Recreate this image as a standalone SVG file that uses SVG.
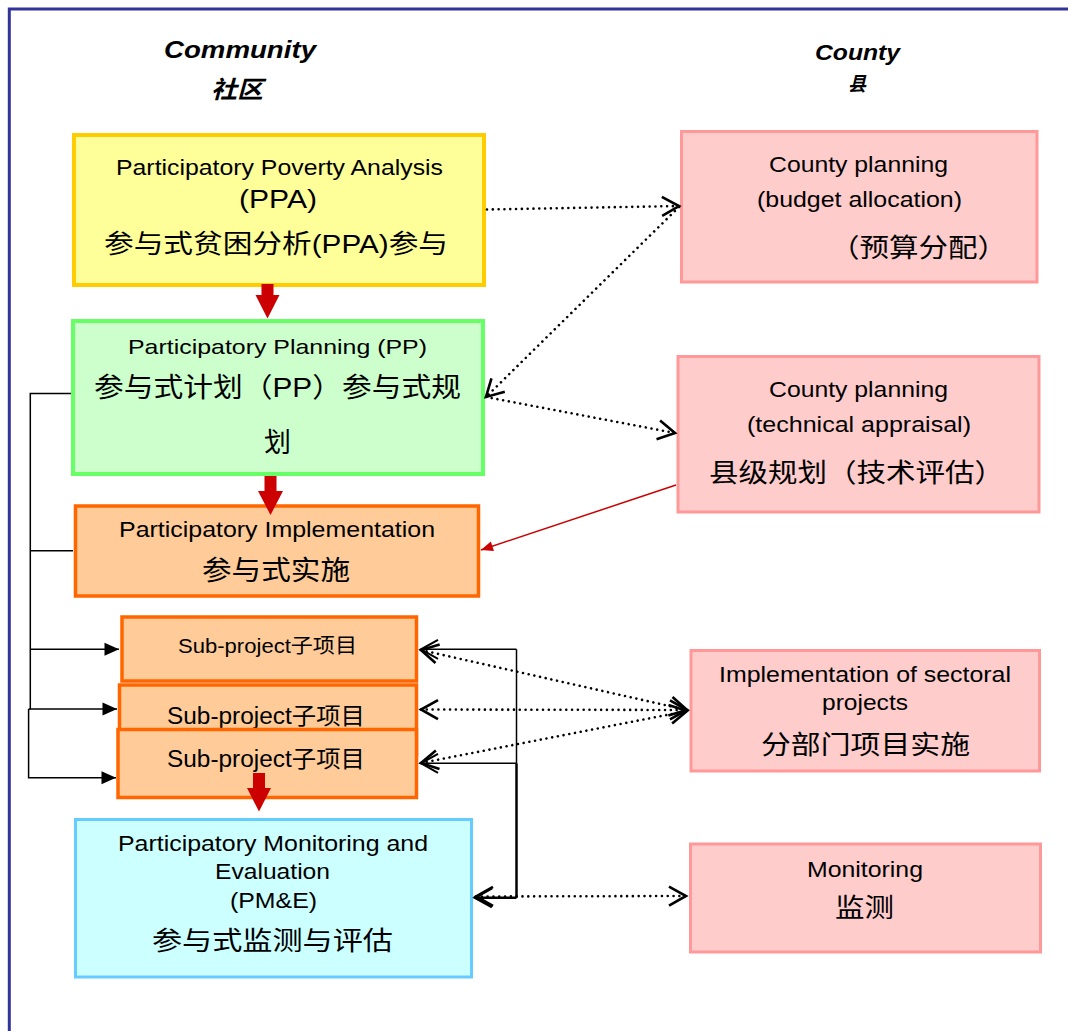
<svg xmlns="http://www.w3.org/2000/svg" width="1068" height="1031" viewBox="0 0 1068 1031">
<style>
text{font-family:"Liberation Sans","Noto Sans CJK SC",sans-serif;fill:#000}
.hd{font-weight:bold;font-style:italic}
.ppa{fill:#FFFF99;stroke:#FFCC00;stroke-width:4}
.pp{fill:#CCFFCC;stroke:#66FF66;stroke-width:4}
.org{fill:#FFCC99;stroke:#FF6600;stroke-width:3.5}
.pme{fill:#CCFFFF;stroke:#66CCFF;stroke-width:3}
.cty{fill:#FFCCCC;stroke:#FF9999;stroke-width:3}
.solid{fill:none;stroke:#000;stroke-width:1.5}
.dot{fill:none;stroke:#000;stroke-width:2.6;stroke-linecap:round;stroke-dasharray:0.01 5.8}
.blk{fill:#CC0000}
</style>
<defs>
<marker id="chev" viewBox="-21 -12 24 24" refX="0" refY="0" markerWidth="24" markerHeight="24" markerUnits="userSpaceOnUse" orient="auto-start-reverse">
<path d="M-17,-9.5 L0,0 L-17,9.5" fill="none" stroke="#000" stroke-width="2.6"/>
</marker>
<marker id="chevt" viewBox="-21 -12 24 24" refX="0" refY="0" markerWidth="24" markerHeight="24" markerUnits="userSpaceOnUse" orient="auto-start-reverse">
<path d="M-17,-9.5 L0,0 L-17,9.5" fill="none" stroke="#000" stroke-width="2"/>
</marker>
<marker id="tri" viewBox="-16 -8 17 16" refX="0" refY="0" markerWidth="17" markerHeight="16" markerUnits="userSpaceOnUse" orient="auto">
<path d="M-14.5,-6.5 L0,0 L-14.5,6.5 Z" fill="#000"/>
</marker>
<marker id="rtri" viewBox="-14 -7 15 14" refX="0" refY="0" markerWidth="15" markerHeight="14" markerUnits="userSpaceOnUse" orient="auto">
<path d="M-12,-5 L0,0 L-12,5 Z" fill="#CC0000"/>
</marker>
</defs>
<rect width="1068" height="1031" fill="#fff"/>
<path d="M9.3,1031 V9 H1068" fill="none" stroke="#333399" stroke-width="3"/>

<g id="headers">
<text class="hd" x="164" y="58" font-size="23" textLength="152" lengthAdjust="spacingAndGlyphs">Community</text>
<text class="hd" x="211" y="98" font-size="24" textLength="52" lengthAdjust="spacingAndGlyphs">社区</text>
<text class="hd" x="815" y="60" font-size="22" textLength="85" lengthAdjust="spacingAndGlyphs">County</text>
<text class="hd" x="848" y="91" font-size="20" textLength="18" lengthAdjust="spacingAndGlyphs">县</text>
</g>

<g id="ppa">
<rect class="ppa" x="74" y="135" width="410" height="150"/>
<text x="116" y="174.5" font-size="22" textLength="327" lengthAdjust="spacingAndGlyphs">Participatory Poverty Analysis</text>
<text x="239" y="208" font-size="26" textLength="78" lengthAdjust="spacingAndGlyphs">(PPA)</text>
<text x="104" y="253" font-size="26" textLength="344" lengthAdjust="spacingAndGlyphs">参与式贫困分析(PPA)参与</text>
</g>

<g id="pp">
<rect class="pp" x="73" y="321" width="410" height="153"/>
<text x="128" y="353.5" font-size="21" textLength="299" lengthAdjust="spacingAndGlyphs">Participatory Planning (PP)</text>
<text x="94" y="397" font-size="27" textLength="367" lengthAdjust="spacingAndGlyphs">参与式计划（PP）参与式规</text>
<text x="277.5" y="452" font-size="27" text-anchor="middle">划</text>
</g>

<g id="impl">
<rect class="org" x="75.5" y="506" width="403" height="90"/>
<text x="119" y="537" font-size="22" textLength="316" lengthAdjust="spacingAndGlyphs">Participatory Implementation</text>
<text x="202" y="580" font-size="27" textLength="148" lengthAdjust="spacingAndGlyphs">参与式实施</text>
</g>

<g id="sub1">
<rect class="org" x="122" y="617" width="294.5" height="64"/>
<text x="178" y="653" font-size="20" textLength="179" lengthAdjust="spacingAndGlyphs">Sub-project子项目</text>
</g>
<g id="sub2">
<rect class="org" x="119.5" y="685" width="297" height="70"/>
<text x="167" y="723.5" font-size="23" textLength="198" lengthAdjust="spacingAndGlyphs">Sub-project子项目</text>
</g>
<g id="sub3">
<rect class="org" x="118" y="729.5" width="298.5" height="68"/>
<text x="167" y="767" font-size="23" textLength="198" lengthAdjust="spacingAndGlyphs">Sub-project子项目</text>
</g>

<g id="pme">
<rect class="pme" x="75.5" y="819.5" width="396" height="157.5"/>
<text x="118" y="851" font-size="22" textLength="310" lengthAdjust="spacingAndGlyphs">Participatory Monitoring and</text>
<text x="215" y="879" font-size="22" textLength="115" lengthAdjust="spacingAndGlyphs">Evaluation</text>
<text x="230" y="908" font-size="22" textLength="87" lengthAdjust="spacingAndGlyphs">(PM&amp;E)</text>
<text x="152" y="950" font-size="26" textLength="241" lengthAdjust="spacingAndGlyphs">参与式监测与评估</text>
</g>

<g id="county-budget">
<rect class="cty" x="681.5" y="131.5" width="355.5" height="150.5"/>
<text x="769" y="171.5" font-size="22" textLength="179" lengthAdjust="spacingAndGlyphs">County planning</text>
<text x="757" y="206.5" font-size="22" textLength="205" lengthAdjust="spacingAndGlyphs">(budget allocation)</text>
<text x="830" y="257" font-size="26" textLength="177" lengthAdjust="spacingAndGlyphs">（预算分配）</text>
</g>

<g id="county-tech">
<rect class="cty" x="678" y="356.5" width="361" height="155.5"/>
<text x="769" y="396.5" font-size="22" textLength="179" lengthAdjust="spacingAndGlyphs">County planning</text>
<text x="747" y="431.5" font-size="22" textLength="224" lengthAdjust="spacingAndGlyphs">(technical appraisal)</text>
<text x="709" y="482" font-size="26" textLength="295" lengthAdjust="spacingAndGlyphs">县级规划（技术评估）</text>
</g>

<g id="sectoral">
<rect class="cty" x="691" y="650.5" width="348.5" height="120.5"/>
<text x="719" y="681.5" font-size="22" textLength="292" lengthAdjust="spacingAndGlyphs">Implementation of sectoral</text>
<text x="822" y="710" font-size="22" textLength="86" lengthAdjust="spacingAndGlyphs">projects</text>
<text x="761" y="754" font-size="26" textLength="209" lengthAdjust="spacingAndGlyphs">分部门项目实施</text>
</g>

<g id="monitoring">
<rect class="cty" x="690.5" y="844" width="350" height="108"/>
<text x="807" y="876.5" font-size="22" textLength="116" lengthAdjust="spacingAndGlyphs">Monitoring</text>
<text x="835" y="917" font-size="26" textLength="59" lengthAdjust="spacingAndGlyphs">监测</text>
</g>

<g id="connectors">
<polygon class="blk" points="261.5,284 273.5,284 273.5,295 279.5,295 267.5,318.5 255.5,295 261.5,295"/>
<polygon class="blk" points="264.5,476 276.5,476 276.5,491 283,491 270.5,515 258,491 264.5,491"/>
<polygon class="blk" points="253,773 265,773 265,788 271,788 259,811.5 247,788 253,788"/>

<path class="solid" d="M71,393.5 H30.3 V709.5"/>
<path class="solid" d="M73,550.7 H30.3"/>
<path class="solid" d="M30.3,649.3 H119" marker-end="url(#tri)"/>
<path class="solid" d="M28.6,709 H117" marker-end="url(#tri)"/>
<path class="solid" d="M28.6,709 V777.7 H116" marker-end="url(#tri)"/>

<path class="solid" d="M516.5,649.3 V763.3"/>
<path d="M516.5,763.3 V897.7" fill="none" stroke="#000" stroke-width="2.5"/>
<path class="solid" d="M516.5,649.3 H421" marker-end="url(#chevt)"/>
<path class="solid" d="M516.5,763.3 H421" marker-end="url(#chevt)"/>
<path d="M516.5,897.7 H475" fill="none" stroke="#000" stroke-width="2.5" marker-end="url(#chev)"/>

<path class="dot" d="M487,209.5 L679,206" marker-end="url(#chev)"/>
<path class="dot" d="M679,207 L486,397" marker-end="url(#chev)"/>
<path class="dot" d="M486,397 L675,433" marker-end="url(#chev)"/>
<path class="dot" d="M421,650 L687,710" marker-start="url(#chev)" marker-end="url(#chev)"/>
<path class="dot" d="M421,709.5 L687,710" marker-start="url(#chev)" marker-end="url(#chev)"/>
<path class="dot" d="M421,763 L687,711" marker-start="url(#chev)" marker-end="url(#chev)"/>
<path class="dot" d="M476,896.5 L686,896" marker-start="url(#chev)" marker-end="url(#chev)"/>

<path d="M676,485 L481,550" fill="none" stroke="#CC0000" stroke-width="1.5" marker-end="url(#rtri)"/>
</g>
</svg>
